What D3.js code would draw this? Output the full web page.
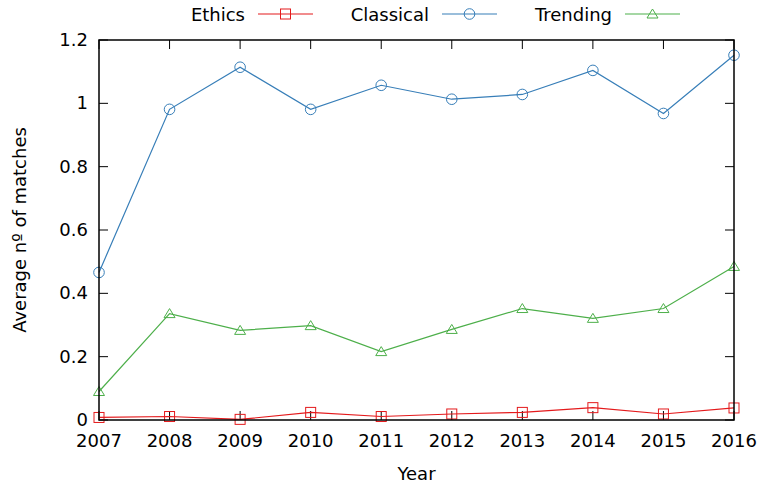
<!DOCTYPE html>
<html><head><meta charset="utf-8">
<script src="https://cdn.jsdelivr.net/npm/d3@7"></script>
<style>body{margin:0;background:#fff}svg{display:block}text{font-family:"DejaVu Sans",sans-serif;fill:#000}</style>
</head><body><svg id="c" width="761" height="487"></svg>
<script>
const years = [2007,2008,2009,2010,2011,2012,2013,2014,2015,2016];
const ethics = [0.008,0.011,0.002,0.024,0.011,0.019,0.024,0.039,0.019,0.038];
const classical = [0.466,0.981,1.114,0.981,1.057,1.013,1.028,1.104,0.968,1.152];
const trending = [0.090,0.336,0.283,0.298,0.216,0.286,0.352,0.321,0.352,0.485];
const yTicks = [0,0.2,0.4,0.6,0.8,1,1.2];
const seriesNames = ["Ethics","Classical","Trending"];
const colors = ["#e41a1c","#377eb8","#4daf4a"];
const symbols = ["square","circle","triangle"];

const L=99,R=734,T=40,B=420;
const svg=d3.select("#c");
const x=d3.scaleLinear().domain([2007,2016]).range([L,R]);
const y=d3.scaleLinear().domain([0,1.2]).range([B,T]);
const fs=18;

const tl=9;
const g=svg.append("g").attr("stroke","#000").attr("stroke-width",1);
years.forEach(v=>{
  g.append("line").attr("x1",x(v)).attr("x2",x(v)).attr("y1",B).attr("y2",B-tl);
  g.append("line").attr("x1",x(v)).attr("x2",x(v)).attr("y1",T).attr("y2",T+tl);
});
yTicks.forEach(v=>{
  g.append("line").attr("x1",L).attr("x2",L+tl).attr("y1",y(v)).attr("y2",y(v));
  g.append("line").attr("x1",R).attr("x2",R-tl).attr("y1",y(v)).attr("y2",y(v));
});
svg.selectAll(".xl").data(years).enter().append("text")
  .attr("x",d=>x(d)).attr("y",B+27).attr("text-anchor","middle").attr("font-size",fs).text(d=>d);
svg.selectAll(".yl").data(yTicks).enter().append("text")
  .attr("x",L-11).attr("y",d=>y(d)+6).attr("text-anchor","end").attr("font-size",fs).text(d=>d3.format("~g")(d));
svg.append("text").attr("x",(L+R)/2).attr("y",480).attr("text-anchor","middle").attr("font-size",fs).text("Year");
svg.append("text").attr("transform","translate(26,230) rotate(-90)").attr("text-anchor","middle").attr("font-size",fs).text("Average nº of matches");

const data=[ethics,classical,trending];
function marker(sel,type,cx,cy,col){
  if(type==="square") sel.append("rect").attr("x",cx-5).attr("y",cy-5).attr("width",10).attr("height",10).attr("fill","none").attr("stroke",col);
  else if(type==="circle") sel.append("circle").attr("cx",cx).attr("cy",cy).attr("r",5.3).attr("fill","none").attr("stroke",col);
  else sel.append("path").attr("d",`M${cx},${cy-5}L${cx+5.5},${cy+4}L${cx-5.5},${cy+4}Z`).attr("fill","none").attr("stroke",col);
}
const line=d3.line().x((d,i)=>x(years[i])).y(d=>y(d));
data.forEach((vals,k)=>{
  const gg=svg.append("g");
  gg.append("path").attr("d",line(vals)).attr("fill","none").attr("stroke",colors[k]).attr("stroke-width",1.2);
  vals.forEach((v,i)=>marker(gg,symbols[k],x(years[i]),y(v),colors[k]));
});
svg.append("rect").attr("x",L).attr("y",T).attr("width",R-L).attr("height",B-T).attr("fill","none").attr("stroke","#000").attr("stroke-width",1.5);

const legEnd=[245,429,612];
seriesNames.forEach((n,k)=>{
  const lg=svg.append("g");
  lg.append("text").attr("x",legEnd[k]).attr("y",21).attr("text-anchor","end").attr("font-size",fs).text(n);
  const x0=legEnd[k]+13,x1=x0+55;
  lg.append("line").attr("x1",x0).attr("x2",x1).attr("y1",14).attr("y2",14).attr("stroke",colors[k]).attr("stroke-width",1.2);
  marker(lg,symbols[k],(x0+x1)/2,14,colors[k]);
});
</script></body></html>
